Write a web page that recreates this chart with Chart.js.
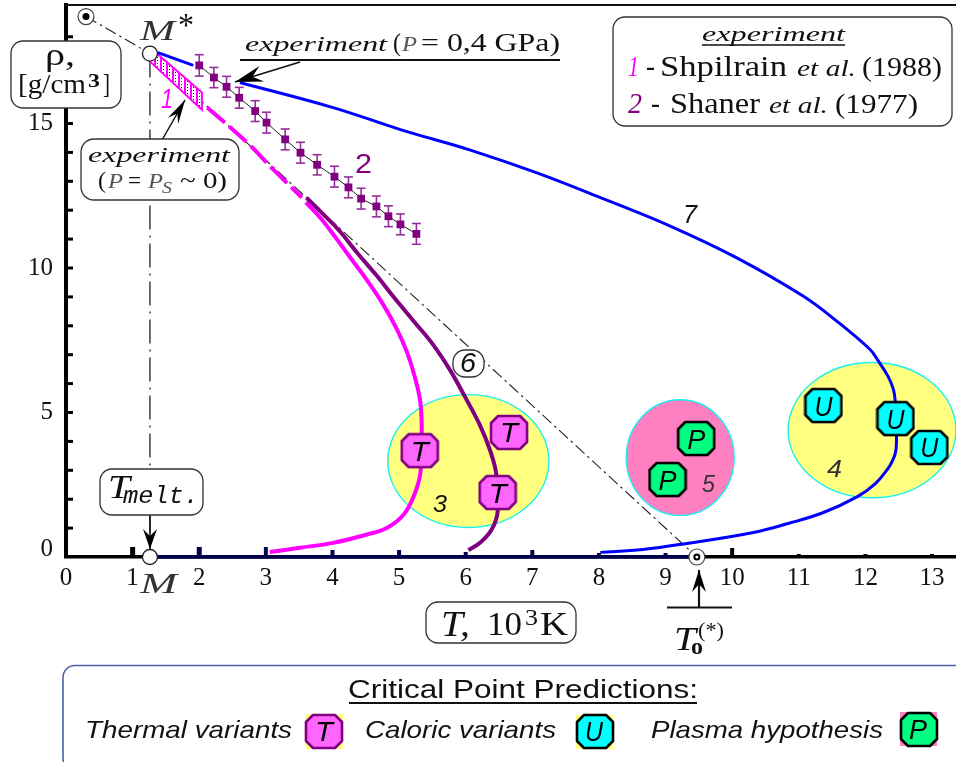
<!DOCTYPE html>
<html>
<head>
<meta charset="utf-8">
<title>Critical Point Predictions</title>
<style>
  html, body { margin: 0; padding: 0; background: #fff; }
  canvas { display: block; }
</style>
<script src="https://cdn.jsdelivr.net/npm/chart.js@4"></script>
</head>
<body>
<canvas id="graphCanvas" width="956" height="762"></canvas>
<script>
// axes
const xTicks = [0, 1, 2, 3, 4, 5, 6, 7, 8, 9, 10, 11, 12, 13];
const yTicks = [0, 1, 2, 3, 4, 5, 6, 7, 8, 9, 10, 11, 12, 13, 14, 15, 16, 17, 18];
const yLabels = [0, 5, 10, 15];

// curve 7
const blueTopX = [1.37, 1.91];
const blueTopY = [17.46, 17.01];
const blueX = [2.61, 4.01, 5.02, 6.07, 7.07, 8.07, 9.07, 10.07, 11.07, 11.57, 12.07, 12.18, 12.34, 12.42, 12.45, 12.46, 12.46, 12.40, 12.33, 12.15, 11.88, 11.37, 10.84, 10.32, 9.32, 8.66, 8.02];
const blueY = [16.42, 15.55, 14.79, 14.08, 13.29, 12.39, 11.45, 10.35, 9.02, 8.16, 7.18, 6.83, 6.25, 5.80, 5.34, 4.79, 3.72, 3.30, 3.03, 2.54, 2.09, 1.54, 1.16, 0.85, 0.47, 0.26, 0.16];

// magenta curve and its dashed start
const magentaDashX = [2.12, 2.72, 3.11, 3.54];
const magentaDashY = [15.55, 14.34, 13.41, 12.44];
const magentaX = [3.60, 3.84, 4.07, 4.29, 4.52, 4.76, 4.97, 5.12, 5.23, 5.32, 5.34, 5.32, 5.22, 5.07, 4.82, 4.52, 4.01, 3.51, 3.06];
const magentaY = [12.27, 11.68, 10.98, 10.29, 9.57, 8.74, 7.87, 7.08, 6.28, 5.34, 4.30, 2.91, 2.10, 1.47, 1.01, 0.78, 0.49, 0.32, 0.17];

// purple curve
const purpleX = [3.61, 3.84, 4.11, 4.37, 4.67, 4.91, 5.22, 5.51, 5.77, 5.99, 6.22, 6.37, 6.46, 6.48, 6.39, 6.22, 6.04];
const purpleY = [12.43, 11.91, 11.27, 10.53, 9.72, 9.02, 8.16, 7.35, 6.45, 5.54, 4.53, 3.66, 2.85, 1.58, 0.95, 0.50, 0.24];

// experiment 1 (Shpilrain), band
const bandX = [1.23, 1.38, 2.04, 2.04, 1.23];
const bandY = [17.21, 17.39, 16.07, 15.48, 17.21];

// experiment 2 (Shaner), points with error bars
const shanerX = [2.00, 2.22, 2.41, 2.60, 2.84, 3.01, 3.29, 3.52, 3.77, 4.03, 4.24, 4.43, 4.66, 4.84, 5.02, 5.26];
const shanerY = [17.01, 16.59, 16.27, 15.89, 15.43, 15.03, 14.45, 13.99, 13.57, 13.16, 12.79, 12.40, 12.13, 11.79, 11.51, 11.18];
const shanerErr = [0.37, 0.35, 0.36, 0.36, 0.36, 0.36, 0.36, 0.36, 0.35, 0.36, 0.36, 0.36, 0.36, 0.36, 0.36, 0.36];

// lines 6 and M*-M
const line6X = [0.30, 1.26, 9.47];
const line6Y = [18.70, 17.42, 0];
const meltX = [1.26, 1.26];
const meltY = [17.42, 0];
const axisNavyX = [1.26, 9.47];
const axisNavyY = [0, 0];

// marked points
const openX = [1.26, 1.26];
const openY = [17.42, 0];
const ringX = [0.30, 9.47];
const ringY = [18.70, 0];

// critical point predictions
const thermalX = [5.31, 6.65, 6.48];
const thermalY = [3.68, 4.31, 2.23];
const caloricX = [11.37, 12.45, 12.96];
const caloricY = [5.24, 4.79, 3.79];
const plasmaX = [9.46, 9.03];
const plasmaY = [4.10, 2.68];

// regions 3, 5, 4
const regionX = [6.04, 9.22, 12.10];
const regionY = [3.32, 3.44, 4.39];
const regionRx = [1.21, 0.81, 1.26];
const regionRy = [2.30, 2.00, 2.34];
const regionFill = ['#ffff80', '#ff80c0', '#ffff80'];

const SERIF = '"Liberation Serif", serif';
const SANS = '"Liberation Sans", sans-serif';
const MONO = '"Liberation Mono", monospace';
const MAGENTA = '#ff00ff';
const PURPLE = '#800080';
const NAVY = '#000050';

function xy(xs, ys) {
  return xs.map((x, i) => ({ x: x, y: ys[i] }));
}

function badge(fill, stroke) {
  const c = document.createElement('canvas');
  c.width = 40;
  c.height = 37;
  const g = c.getContext('2d');
  const w = 36, h = 33, k = 7, l = 2, t = 2;
  g.beginPath();
  g.moveTo(l + k, t);
  g.lineTo(l + w - k, t);
  g.lineTo(l + w, t + k);
  g.lineTo(l + w, t + h - k);
  g.lineTo(l + w - k, t + h);
  g.lineTo(l + k, t + h);
  g.lineTo(l, t + h - k);
  g.lineTo(l, t + k);
  g.closePath();
  g.fillStyle = fill;
  g.fill();
  g.lineWidth = 2.6;
  g.lineJoin = 'round';
  g.strokeStyle = stroke;
  g.stroke();
  return c;
}
const badgeT = badge('#ff66ff', PURPLE);
const badgeU = badge('#00ffff', '#000');
const badgeP = badge('#00ff80', '#000');

function hatch() {
  const c = document.createElement('canvas');
  c.width = 6;
  c.height = 3;
  const g = c.getContext('2d');
  g.fillStyle = '#fff';
  g.fillRect(0, 0, 6, 3);
  g.fillStyle = MAGENTA;
  g.fillRect(4, 0, 2, 3);
  g.fillStyle = '#222';
  g.fillRect(1, 0, 1, 1);
  return c;
}
const ctx = document.getElementById('graphCanvas').getContext('2d');

// the picture is stretched sideways, so text is scaled to the width it has there
function fit(str, x, w, y, font, color) {
  ctx.font = font;
  const m = ctx.measureText(str).width;
  ctx.fillStyle = color || '#111';
  ctx.textAlign = 'left';
  ctx.textBaseline = 'alphabetic';
  ctx.save();
  ctx.translate(x, y);
  ctx.scale(w / m, 1);
  ctx.fillText(str, 0, 0);
  ctx.restore();
}

function box(x, y, w, h, r) {
  ctx.beginPath();
  ctx.roundRect(x, y, w, h, r);
  ctx.fillStyle = '#fff';
  ctx.fill();
  ctx.lineWidth = 1.3;
  ctx.strokeStyle = '#333';
  ctx.stroke();
}

function seg(x1, y1, x2, y2, w, color) {
  ctx.beginPath();
  ctx.moveTo(x1, y1);
  ctx.lineTo(x2, y2);
  ctx.lineWidth = w;
  ctx.strokeStyle = color || '#111';
  ctx.stroke();
}

function arrow(x1, y1, x2, y2, len, wid, shaft) {
  seg(x1, y1, x2, y2, shaft || 1.5);
  const a = Math.atan2(y2 - y1, x2 - x1);
  const cs = Math.cos(a), sn = Math.sin(a);
  ctx.beginPath();
  ctx.moveTo(x2, y2);
  ctx.lineTo(x2 - len * cs + wid * sn, y2 - len * sn - wid * cs);
  ctx.lineTo(x2 - 0.65 * len * cs, y2 - 0.65 * len * sn);
  ctx.lineTo(x2 - len * cs - wid * sn, y2 - len * sn + wid * cs);
  ctx.closePath();
  ctx.fillStyle = '#000';
  ctx.fill();
}

const underlay = {
  id: 'underlay',
  beforeDatasetsDraw(chart) {
    const sx = chart.scales.x, sy = chart.scales.y;
    // yellow and pink regions
    regionX.forEach((v, i) => {
      const cx = sx.getPixelForValue(v), cy = sy.getPixelForValue(regionY[i]);
      const rx = sx.getPixelForValue(v + regionRx[i]) - cx;
      const ry = cy - sy.getPixelForValue(regionY[i] + regionRy[i]);
      ctx.beginPath();
      ctx.ellipse(cx, cy, rx, ry, 0, 0, Math.PI * 2);
      ctx.fillStyle = regionFill[i];
      ctx.fill();
      ctx.lineWidth = 1.4;
      ctx.strokeStyle = '#19f0f0';
      ctx.stroke();
    });
    // error bars of series 2
    shanerX.forEach((v, i) => {
      const px = sx.getPixelForValue(v);
      const top = sy.getPixelForValue(shanerY[i] + shanerErr[i]);
      const bot = sy.getPixelForValue(shanerY[i] - shanerErr[i]);
      seg(px, top, px, bot, 1.6, '#93309a');
      seg(px - 4.5, top, px + 4.5, top, 1.6, '#93309a');
      seg(px - 4.5, bot, px + 4.5, bot, 1.6, '#93309a');
    });
  }
};

const overlay = {
  id: 'overlay',
  afterDatasetsDraw(chart) {
    const sx = chart.scales.x, sy = chart.scales.y;
    const area = chart.chartArea;
    ctx.save();
    // frame and inward ticks
    seg(area.left, area.top, area.right, area.top, 2, '#111');
    yTicks.forEach(v => {
      const py = sy.getPixelForValue(v);
      if (v > 0) seg(area.left, py, area.left + 7, py, 3, '#000');
    });
    const xTickLen = [0, 10, 10, 10, 7, 7, 5, 7, 4, 4, 9, 3, 3, 3];
    xTicks.forEach((v, i) => {
      const px = sx.getPixelForValue(v);
      const c = v > 1.26 && v < 9.47 ? NAVY : '#000';
      if (xTickLen[i]) seg(px, sy.bottom, px, sy.bottom - xTickLen[i], v < 3 ? 5 : 4, c);
    });

    // numbers on the curves
    ctx.textBaseline = 'alphabetic';
    fit('1', 161, 12, 108, 'italic 27px ' + SANS, MAGENTA);
    fit('2', 355, 17, 173, '27px ' + SANS, PURPLE);
    fit('7', 683, 14, 223, 'italic 25px ' + SANS);
    fit('3', 433, 14, 512, 'italic 24px ' + SANS);
    fit('5', 702, 13, 492, 'italic 24px ' + SANS, '#333');
    fit('4', 827, 15, 477, 'italic 24px ' + SANS, '#333');

    // letters on the prediction badges
    [[thermalX, thermalY, 'T'], [caloricX, caloricY, 'U'], [plasmaX, plasmaY, 'P']].forEach(s => {
      s[0].forEach((v, i) => {
        fit(s[2], sx.getPixelForValue(v) - 9, 18, sy.getPixelForValue(s[1][i]) + 10, 'italic 28px ' + SANS, '#000');
      });
    });

    // M*, M
    fit('M', 140, 35, 40, 'italic 30px ' + SERIF, '#333');
    fit('*', 178, 16, 36, '34px ' + SERIF);
    fit('M', 140, 37, 593, 'italic 30px ' + SERIF, '#333');

    // rho box
    box(11, 41, 110, 67, 12);
    fit('ρ,', 45, 30, 65, '32px ' + SERIF);
    fit('[g/cm', 18, 68, 93, '27px ' + SERIF);
    fit('3', 88, 12, 87, 'bold 19px ' + SERIF);
    fit(']', 103, 7, 93, '27px ' + SERIF);

    // experiment P = 0,4 GPa
    fit('experiment', 245, 142, 51, 'italic 22px ' + SERIF);
    fit('(', 393, 8, 51, '26px ' + SERIF);
    fit('P', 402, 15, 51, 'italic 22px ' + SERIF, '#555');
    fit('= 0,4 GPa)', 421, 139, 51, '26px ' + SERIF);
    seg(240, 60, 560, 60, 2);
    arrow(300, 62, 235, 82, 28, 8);

    // experiment P = Ps box
    arrow(162, 140, 185, 100, 24, 6);
    box(81, 139, 158, 61, 13);
    fit('experiment', 88, 142, 162, 'italic 22px ' + SERIF);
    fit('(', 98, 8, 188, '24px ' + SERIF);
    fit('P', 108, 15, 188, 'italic 22px ' + SERIF, '#555');
    fit('=', 128, 13, 188, '24px ' + SERIF);
    fit('P', 148, 15, 188, 'italic 22px ' + SERIF, '#555');
    fit('S', 162, 10, 193, 'italic 17px ' + SERIF, '#555');
    fit('~ 0)', 180, 47, 188, '24px ' + SERIF);

    // legend box, top right
    box(613, 17, 339, 109, 12);
    fit('experiment', 702, 143, 41, 'italic 22px ' + SERIF);
    seg(702, 45, 845, 45, 1.5);
    fit('1', 628, 11, 76, 'italic 30px ' + SERIF, MAGENTA);
    fit('-', 646, 9, 76, '29px ' + SERIF);
    fit('Shpilrain', 660, 127, 76, '29px ' + SERIF);
    fit('et al.', 797, 59, 76, 'italic 24px ' + SERIF);
    fit('(1988)', 862, 80, 76, '28px ' + SERIF);
    fit('2', 628, 14, 113, 'italic 30px ' + SERIF, PURPLE);
    fit('-', 651, 9, 113, '29px ' + SERIF);
    fit('Shaner', 670, 90, 113, '29px ' + SERIF);
    fit('et al.', 769, 59, 113, 'italic 24px ' + SERIF);
    fit('(1977)', 835, 83, 113, '28px ' + SERIF);

    // label 6
    box(453, 350, 31, 27, 12);
    fit('6', 460, 16, 372, 'italic 27px ' + SANS);

    // T melt
    arrow(150, 515, 150, 549, 20, 7);
    box(100, 469, 103, 46, 12);
    fit('T', 108, 22, 498, 'italic 33px ' + SERIF);
    fit('melt.', 123, 76, 503, 'italic 24px ' + MONO);

    // T, 10^3 K
    box(426, 602, 150, 41, 12);
    fit('T,', 441, 29, 636, 'italic 36px ' + SERIF);
    fit('10', 487, 35, 635, '34px ' + SERIF);
    fit('3', 525, 13, 625, '24px ' + SERIF);
    fit('K', 540, 28, 635, '34px ' + SERIF);

    // T0(*)
    arrow(699, 607, 699, 570, 22, 7, 2.2);
    seg(667, 607.5, 732, 607.5, 2);
    fit('T', 674, 22, 650, 'italic 34px ' + SERIF);
    fit('o', 691, 12, 654, 'bold 23px ' + SERIF);
    fit('(*)', 698, 26, 637, '21px ' + SERIF);

    // bottom legend
    ctx.beginPath();
    ctx.roundRect(63, 665.5, 910, 105, 12);
    ctx.lineWidth = 1.6;
    ctx.strokeStyle = '#5060b0';
    ctx.stroke();
    fit('Critical Point Predictions:', 348, 350, 698, '26px ' + SANS);
    seg(349, 703, 697, 703, 2);
    fit('Thermal variants', 85, 207, 738, 'italic 24px ' + SANS);
    fit('Caloric variants', 365, 191, 738, 'italic 24px ' + SANS);
    fit('Plasma hypothesis', 651, 232, 738, 'italic 24px ' + SANS);
    ctx.fillStyle = '#ffff80';
    ctx.fillRect(305, 714, 38, 35);
    ctx.fillRect(576, 715, 37, 34);
    ctx.fillStyle = '#ff80c0';
    ctx.fillRect(900, 712, 37, 34);
    ctx.drawImage(badgeT, 304, 713);
    ctx.drawImage(badgeU, 575, 713);
    ctx.drawImage(badgeP, 899, 711);
    fit('T', 315, 18, 741, 'italic 28px ' + SANS, '#000');
    fit('U', 585, 18, 741, 'italic 28px ' + SANS, '#000');
    fit('P', 909, 18, 739, 'italic 28px ' + SANS, '#000');
    ctx.restore();
  }
};

function curve(label, xs, ys, color, width, order, extra) {
  return Object.assign({
    label: label,
    data: xy(xs, ys),
    showLine: true,
    borderColor: color,
    backgroundColor: color,
    borderWidth: width,
    pointRadius: 0,
    tension: 0.4,
    clip: false,
    order: order
  }, extra || {});
}

function marks(label, xs, ys, style, order) {
  return {
    label: label,
    data: xy(xs, ys),
    pointStyle: style,
    pointRadius: 18,
    clip: false,
    order: order
  };
}

new Chart(ctx, {
  type: 'scatter',
  data: {
    datasets: [
      marks('Thermal variants', thermalX, thermalY, badgeT, 0),
      marks('Caloric variants', caloricX, caloricY, badgeU, 0),
      marks('Plasma hypothesis', plasmaX, plasmaY, badgeP, 0),
      { label: 'M', data: xy(openX, openY), pointStyle: 'circle', pointRadius: 7.5, pointBackgroundColor: '#fff', pointBorderColor: '#222', pointBorderWidth: 1.3, clip: false, order: 1 },
      { label: 'ring dot', data: xy(ringX, ringY), pointStyle: 'circle', pointRadius: [3.5, 2.5], pointBackgroundColor: ['#000', '#fff'], pointBorderColor: '#000', pointBorderWidth: [0, 2], clip: false, order: 1 },
      { label: 'ring', data: xy(ringX, ringY), pointStyle: 'circle', pointRadius: 8, pointBackgroundColor: '#fff', pointBorderColor: '#444', pointBorderWidth: 1.2, clip: false, order: 2 },
      curve('2 - Shaner et al. (1977)', shanerX, shanerY, '#222', 1, 3, {
        tension: 0, pointRadius: 5.5, pointStyle: 'rect', pointBackgroundColor: PURPLE, pointBorderColor: PURPLE, pointBorderWidth: 0
      }),
      curve('7 top', blueTopX, blueTopY, '#0000ff', 3, 4),
      curve('7', blueX, blueY, '#0000ff', 3, 4),
      curve('purple', purpleX, purpleY, PURPLE, 4, 4),
      curve('magenta', magentaX, magentaY, MAGENTA, 4, 5),
      curve('magenta dashed', magentaDashX, magentaDashY, MAGENTA, 4, 5, { borderDash: [23, 6] }),
      curve('1 - Shpilrain et al. (1988)', bandX, bandY, MAGENTA, 2, 5, {
        tension: 0, fill: 'shape', backgroundColor: ctx.createPattern(hatch(), 'repeat')
      }),
      curve('6', line6X, line6Y, '#222', 1.1, 6, { tension: 0, borderDash: [12, 4, 2.5, 4] }),
      curve('M*-M', meltX, meltY, '#222', 1.3, 6, { tension: 0, borderDash: [24, 6, 2, 6] }),
      curve('axis', axisNavyX, axisNavyY, NAVY, 3.5, 6, { tension: 0 })
    ]
  },
  options: {
    responsive: false,
    animation: false,
    events: [],
    layout: { autoPadding: false, padding: { top: 5, left: 0, right: 0, bottom: 165 } },
    plugins: { legend: { display: false }, tooltip: { enabled: false } },
    scales: {
      x: {
        type: 'linear',
        min: 0,
        max: 13.36,
        afterFit: s => { s.height = 40; s.paddingLeft = 0; s.paddingRight = 0; },
        afterBuildTicks: s => { s.ticks = xTicks.map(v => ({ value: v })); },
        border: { color: '#000', width: 3.5 },
        grid: { drawOnChartArea: false, drawTicks: false },
        ticks: {
          autoSkip: false,
          maxRotation: 0,
          padding: 6,
          color: '#111',
          font: { family: SERIF, size: 25 }
        }
      },
      y: {
        type: 'linear',
        min: 0,
        max: 19.1,
        afterFit: s => { s.width = 66; s.paddingTop = 0; s.paddingBottom = 0; },
        afterBuildTicks: s => { s.ticks = yTicks.map(v => ({ value: v })); },
        border: { color: '#000', width: 4 },
        grid: { drawOnChartArea: false, drawTicks: false },
        ticks: {
          autoSkip: false,
          padding: 13,
          color: '#111',
          font: c => ({ family: SERIF, size: 25, lineHeight: c.tick && c.tick.value === 0 ? 0.6 : 1.2 }),
          // the 0 sits a little above the axis in the picture
          callback: v => (v === 0 ? ['0', ''] : (yLabels.includes(v) ? String(v) : ''))
        }
      }
    }
  },
  plugins: [underlay, overlay]
});
</script>
</body>
</html>
